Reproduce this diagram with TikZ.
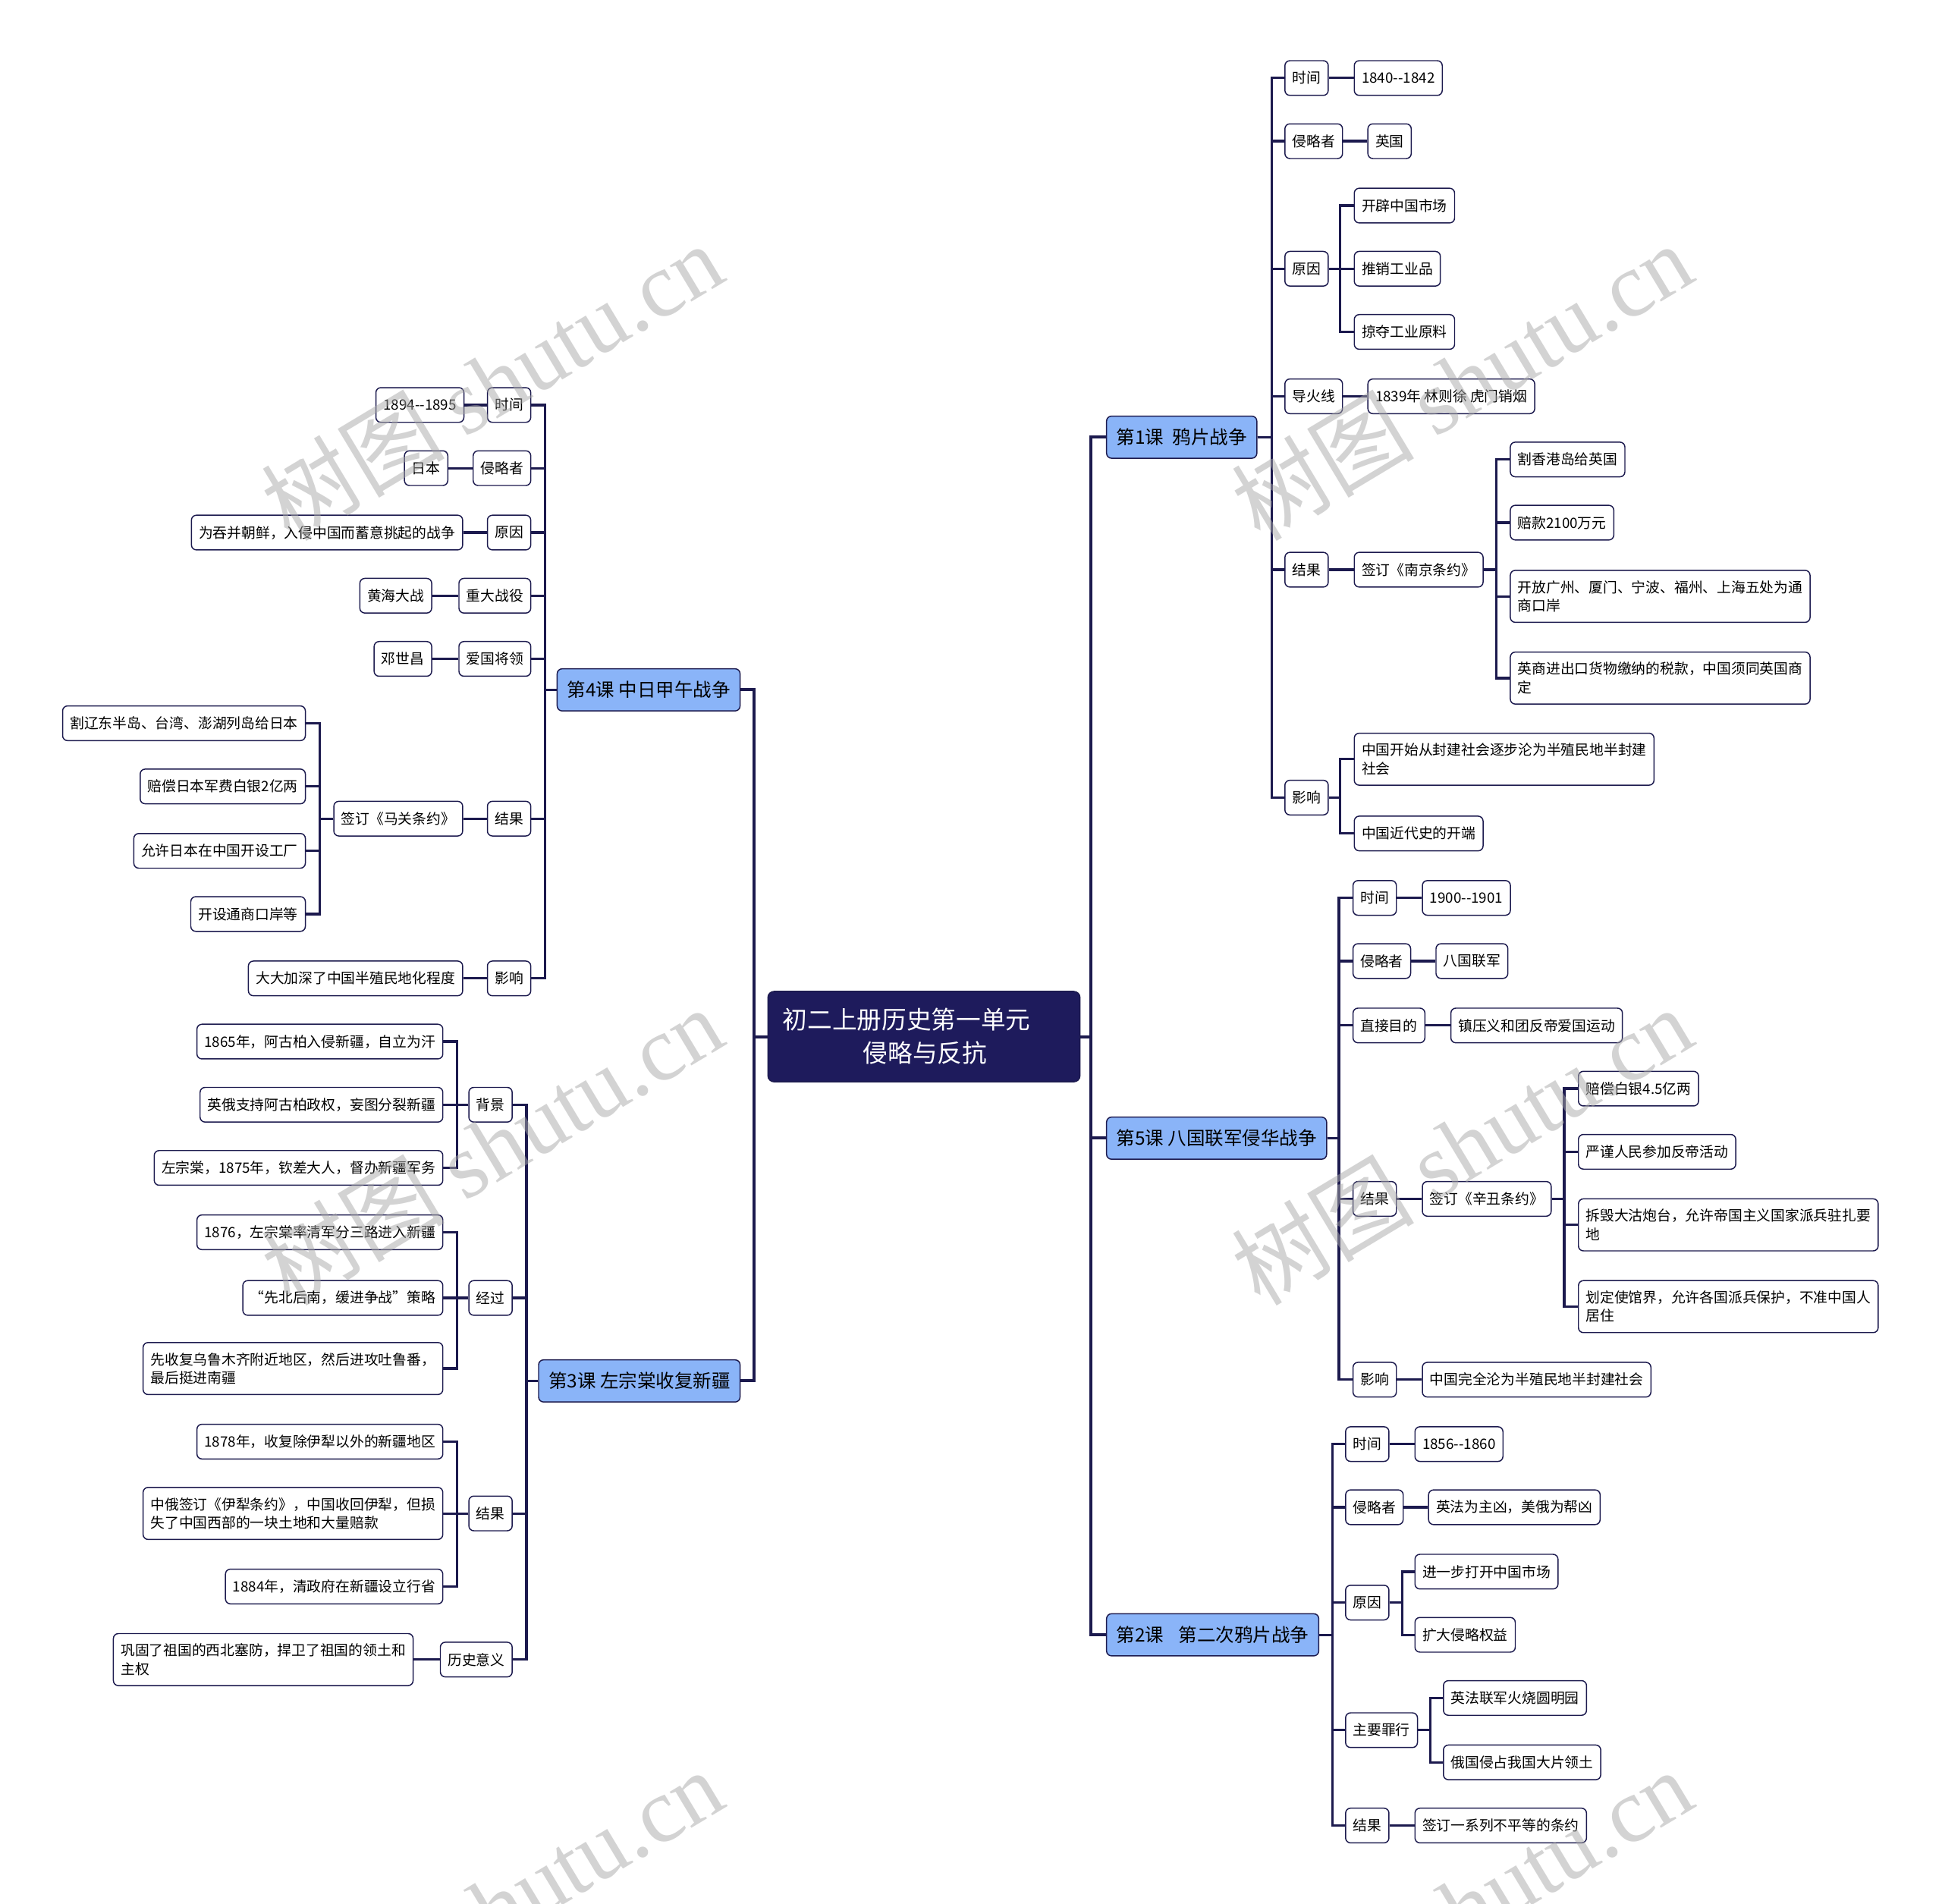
\documentclass[tikz,border=0pt]{standalone}
\usepackage{fontspec}
\setmainfont{Noto Sans CJK SC}
\newfontfamily\wmlat{Liberation Serif}
\usetikzlibrary{calc}
\definecolor{nv}{HTML}{1E1B5C}
\definecolor{lc}{HTML}{1C1A4E}
\definecolor{tb}{HTML}{8AB4F8}
\definecolor{wmc}{HTML}{A8A8A8}
\newcommand\myfs{\fontsize{11.5}{15}\selectfont}
\newcommand\myft{\fontsize{15}{18}\selectfont}
\newcommand\connR[3]{\draw[conn] (#1.east) -- (#3 |- #1.east) -- (#3 |- #2.west) [rounded corners=9pt] -- (#2.west);}
\newcommand\connL[3]{\draw[conn] (#1.west) -- (#3 |- #1.west) -- (#3 |- #2.east) [rounded corners=9pt] -- (#2.east);}
\newcommand\connS[2]{\draw[conn] (#1.east) -- (#2.west);}
\newcommand\connSL[2]{\draw[conn] (#1.west) -- (#2.east);}
\tikzset{
  sub/.style={draw=lc, line width=0.9pt, rounded corners=4pt, fill=white, font=\myfs, inner xsep=6pt, inner ysep=0pt, minimum height=28pt, align=left},
  two/.style={minimum height=42pt},
  topic/.style={draw=lc, line width=0.9pt, rounded corners=4pt, fill=tb, font=\myft, inner xsep=8pt, inner ysep=0pt, minimum height=34pt},
  rootbox/.style={draw=lc, line width=0.9pt, rounded corners=5pt, fill=nv, text=white, font=\fontsize{20}{27}\selectfont, inner xsep=12pt, inner ysep=0pt, text width=228pt, minimum height=73pt, align=left},
  conn/.style={draw=lc, line width=2pt},
  wm/.style={text=wmc, opacity=0.5, font=\fontsize{74}{74}\selectfont, rotate=31, inner sep=0pt},
}
\begin{document}
\begin{tikzpicture}[x=1pt,y=-1pt]
\useasboundingbox (0,0) rectangle (1568,1537);
\fill[white] (0,0) rectangle (1568,1537);

% trunks
\coordinate (TR) at (881,0);
\coordinate (TL) at (609,0);
\coordinate (T1) at (1027,0);
\coordinate (T5) at (1081,0);
\coordinate (T2) at (1076,0);
\coordinate (T4) at (440,0);
\coordinate (T3) at (425,0);
\coordinate (S1a) at (1082,0);
\coordinate (S1b) at (1208,0);
\coordinate (S1c) at (1082,0);
\coordinate (S5) at (1263,0);
\coordinate (S2a) at (1132,0);
\coordinate (S2b) at (1155,0);
\coordinate (S4) at (258,0);
\coordinate (S3) at (369,0);

% root and topics
\node[rootbox] (root) at (746,837) {初二上册历史第一单元\\\hspace*{65pt}侵略与反抗};
\node[topic, anchor=west] (t1) at (893,353) {第1课\hspace{7pt}鸦片战争};
\node[topic, anchor=west] (t5) at (893,919) {第5课 八国联军侵华战争};
\node[topic, anchor=west] (t2) at (893,1320) {第2课\hspace{12pt}第二次鸦片战争};
\node[topic, anchor=east] (t4) at (598,557) {第4课 中日甲午战争};
\node[topic, anchor=east] (t3) at (598,1115) {第3课 左宗棠收复新疆};

% lesson 1
\node[sub, anchor=west] (a1) at (1037,63) {时间};
\node[sub, anchor=west] (a1v) at (1093,63) {1840-{}-1842};
\node[sub, anchor=west] (a2) at (1037,114) {侵略者};
\node[sub, anchor=west] (a2v) at (1104,114) {英国};
\node[sub, anchor=west] (a3) at (1037,217) {原因};
\node[sub, anchor=west] (a3a) at (1093,166) {开辟中国市场};
\node[sub, anchor=west] (a3b) at (1093,217) {推销工业品};
\node[sub, anchor=west] (a3c) at (1093,268) {掠夺工业原料};
\node[sub, anchor=west] (a4) at (1037,320) {导火线};
\node[sub, anchor=west] (a4v) at (1104,320) {1839年 林则徐 虎门销烟};
\node[sub, anchor=west] (a5) at (1037,460) {结果};
\node[sub, anchor=west] (a5v) at (1093,460) {签订《南京条约》};
\node[sub, anchor=west] (a5a) at (1219,371) {割香港岛给英国};
\node[sub, anchor=west] (a5b) at (1219,422) {赔款2100万元};
\node[sub, two, anchor=west] (a5c) at (1219,481.5) {开放广州、厦门、宁波、福州、上海五处为通\\商口岸};
\node[sub, two, anchor=west] (a5d) at (1219,547.5) {英商进出口货物缴纳的税款，中国须同英国商\\定};
\node[sub, anchor=west] (a6) at (1037,644) {影响};
\node[sub, two, anchor=west] (a6a) at (1093,613) {中国开始从封建社会逐步沦为半殖民地半封建\\社会};
\node[sub, anchor=west] (a6b) at (1093,673) {中国近代史的开端};

% lesson 5
\node[sub, anchor=west] (b1) at (1092,725) {时间};
\node[sub, anchor=west] (b1v) at (1148,725) {1900-{}-1901};
\node[sub, anchor=west] (b2) at (1092,776) {侵略者};
\node[sub, anchor=west] (b2v) at (1159,776) {八国联军};
\node[sub, anchor=west] (b3) at (1092,828) {直接目的};
\node[sub, anchor=west] (b3v) at (1171,828) {镇压义和团反帝爱国运动};
\node[sub, anchor=west] (b4) at (1092,968) {结果};
\node[sub, anchor=west] (b4v) at (1148,968) {签订《辛丑条约》};
\node[sub, anchor=west] (b4a) at (1274,879) {赔偿白银4.5亿两};
\node[sub, anchor=west] (b4b) at (1274,930) {严谨人民参加反帝活动};
\node[sub, two, anchor=west] (b4c) at (1274,989) {拆毁大沽炮台，允许帝国主义国家派兵驻扎要\\地};
\node[sub, two, anchor=west] (b4d) at (1274,1055) {划定使馆界，允许各国派兵保护，不准中国人\\居住};
\node[sub, anchor=west] (b5) at (1092,1114) {影响};
\node[sub, anchor=west] (b5v) at (1148,1114) {中国完全沦为半殖民地半封建社会};

% lesson 2
\node[sub, anchor=west] (c1) at (1086,1166) {时间};
\node[sub, anchor=west] (c1v) at (1142,1166) {1856-{}-1860};
\node[sub, anchor=west] (c2) at (1086,1217) {侵略者};
\node[sub, anchor=west] (c2v) at (1153,1217) {英法为主凶，美俄为帮凶};
\node[sub, anchor=west] (c3) at (1086,1294) {原因};
\node[sub, anchor=west] (c3a) at (1142,1269) {进一步打开中国市场};
\node[sub, anchor=west] (c3b) at (1142,1320) {扩大侵略权益};
\node[sub, anchor=west] (c4) at (1086,1397) {主要罪行};
\node[sub, anchor=west] (c4a) at (1165,1371) {英法联军火烧圆明园};
\node[sub, anchor=west] (c4b) at (1165,1423) {俄国侵占我国大片领土};
\node[sub, anchor=west] (c5) at (1086,1474) {结果};
\node[sub, anchor=west] (c5v) at (1142,1474) {签订一系列不平等的条约};

% lesson 4
\node[sub, anchor=east] (d1) at (429,327) {时间};
\node[sub, anchor=east] (d1v) at (375,327) {1894-{}-1895};
\node[sub, anchor=east] (d2) at (429,378) {侵略者};
\node[sub, anchor=east] (d2v) at (362,378) {日本};
\node[sub, anchor=east] (d3) at (429,430) {原因};
\node[sub, anchor=east] (d3v) at (374,430) {为吞并朝鲜，入侵中国而蓄意挑起的战争};
\node[sub, anchor=east] (d4) at (429,481) {重大战役};
\node[sub, anchor=east] (d4v) at (349,481) {黄海大战};
\node[sub, anchor=east] (d5) at (429,532) {爱国将领};
\node[sub, anchor=east] (d5v) at (349,532) {邓世昌};
\node[sub, anchor=east] (d6) at (429,661) {结果};
\node[sub, anchor=east] (d6v) at (374,661) {签订《马关条约》};
\node[sub, anchor=east] (d6a) at (247,584) {割辽东半岛、台湾、澎湖列岛给日本};
\node[sub, anchor=east] (d6b) at (247,635) {赔偿日本军费白银2亿两};
\node[sub, anchor=east] (d6c) at (247,687) {允许日本在中国开设工厂};
\node[sub, anchor=east] (d6d) at (247,738) {开设通商口岸等};
\node[sub, anchor=east] (d7) at (429,790) {影响};
\node[sub, anchor=east] (d7v) at (374,790) {大大加深了中国半殖民地化程度};

% lesson 3
\node[sub, anchor=east] (e1) at (414,892) {背景};
\node[sub, anchor=east] (e1a) at (358,841) {1865年，阿古柏入侵新疆，自立为汗};
\node[sub, anchor=east] (e1b) at (358,892) {英俄支持阿古柏政权，妄图分裂新疆};
\node[sub, anchor=east] (e1c) at (358,943) {左宗棠，1875年，钦差大人，督办新疆军务};
\node[sub, anchor=east] (e2) at (414,1048) {经过};
\node[sub, anchor=east] (e2a) at (358,995) {1876，左宗棠率清军分三路进入新疆};
\node[sub, anchor=east] (e2b) at (358,1048) {“先北后南，缓进争战”策略};
\node[sub, two, anchor=east] (e2c) at (358,1105) {先收复乌鲁木齐附近地区，然后进攻吐鲁番，\\最后挺进南疆};
\node[sub, anchor=east] (e3) at (414,1222) {结果};
\node[sub, anchor=east] (e3a) at (358,1164) {1878年，收复除伊犁以外的新疆地区};
\node[sub, two, anchor=east] (e3b) at (358,1222) {中俄签订《伊犁条约》，中国收回伊犁，但损\\失了中国西部的一块土地和大量赔款};
\node[sub, anchor=east] (e3c) at (358,1281) {1884年，清政府在新疆设立行省};
\node[sub, anchor=east] (e4) at (414,1340) {历史意义};
\node[sub, two, anchor=east] (e4v) at (334,1340) {巩固了祖国的西北塞防，捍卫了祖国的领土和\\主权};

% connectors: root
\begin{scope}[conn/.style={draw=lc, line width=2.4pt}]
\connR{root}{t1}{TR}
\connR{root}{t5}{TR}
\connR{root}{t2}{TR}
\connL{root}{t4}{TL}
\connL{root}{t3}{TL}
\end{scope}

% lesson 1 connectors
\connR{t1}{a1}{T1}
\connR{t1}{a2}{T1}
\connR{t1}{a3}{T1}
\connR{t1}{a4}{T1}
\connR{t1}{a5}{T1}
\connR{t1}{a6}{T1}
\connS{a1}{a1v}
\connS{a2}{a2v}
\connR{a3}{a3a}{S1a}
\connS{a3}{a3b}
\connR{a3}{a3c}{S1a}
\connS{a4}{a4v}
\connS{a5}{a5v}
\connR{a5v}{a5a}{S1b}
\connR{a5v}{a5b}{S1b}
\connR{a5v}{a5c}{S1b}
\connR{a5v}{a5d}{S1b}
\connR{a6}{a6a}{S1c}
\connR{a6}{a6b}{S1c}

% lesson 5 connectors
\connR{t5}{b1}{T5}
\connR{t5}{b2}{T5}
\connR{t5}{b3}{T5}
\connR{t5}{b4}{T5}
\connR{t5}{b5}{T5}
\connS{b1}{b1v}
\connS{b2}{b2v}
\connS{b3}{b3v}
\connS{b4}{b4v}
\connR{b4v}{b4a}{S5}
\connR{b4v}{b4b}{S5}
\connR{b4v}{b4c}{S5}
\connR{b4v}{b4d}{S5}
\connS{b5}{b5v}

% lesson 2 connectors
\connR{t2}{c1}{T2}
\connR{t2}{c2}{T2}
\connR{t2}{c3}{T2}
\connR{t2}{c4}{T2}
\connR{t2}{c5}{T2}
\connS{c1}{c1v}
\connS{c2}{c2v}
\connR{c3}{c3a}{S2a}
\connR{c3}{c3b}{S2a}
\connR{c4}{c4a}{S2b}
\connR{c4}{c4b}{S2b}
\connS{c5}{c5v}

% lesson 4 connectors
\connL{t4}{d1}{T4}
\connL{t4}{d2}{T4}
\connL{t4}{d3}{T4}
\connL{t4}{d4}{T4}
\connL{t4}{d5}{T4}
\connL{t4}{d6}{T4}
\connL{t4}{d7}{T4}
\connSL{d1}{d1v}
\connSL{d2}{d2v}
\connSL{d3}{d3v}
\connSL{d4}{d4v}
\connSL{d5}{d5v}
\connSL{d6}{d6v}
\connL{d6v}{d6a}{S4}
\connL{d6v}{d6b}{S4}
\connL{d6v}{d6c}{S4}
\connL{d6v}{d6d}{S4}
\connSL{d7}{d7v}

% lesson 3 connectors
\connL{t3}{e1}{T3}
\connL{t3}{e2}{T3}
\connL{t3}{e3}{T3}
\connL{t3}{e4}{T3}
\connL{e1}{e1a}{S3}
\connSL{e1}{e1b}
\connL{e1}{e1c}{S3}
\connL{e2}{e2a}{S3}
\connSL{e2}{e2b}
\connL{e2}{e2c}{S3}
\connL{e3}{e3a}{S3}
\connSL{e3}{e3b}
\connL{e3}{e3c}{S3}
\connSL{e4}{e4v}

% watermarks
\node[wm] (wm1) at (397,308) {树图 {\wmlat shutu.cn}};
\node[wm] (wm2) at (1180,308) {树图 {\wmlat shutu.cn}};
\node[wm] (wm3) at (397,925) {树图 {\wmlat shutu.cn}};
\node[wm] (wm4) at (1180,925) {树图 {\wmlat shutu.cn}};
\node[wm] (wm5) at (397,1540) {树图 {\wmlat shutu.cn}};
\node[wm] (wm6) at (1180,1540) {树图 {\wmlat shutu.cn}};
\end{tikzpicture}
\end{document}
